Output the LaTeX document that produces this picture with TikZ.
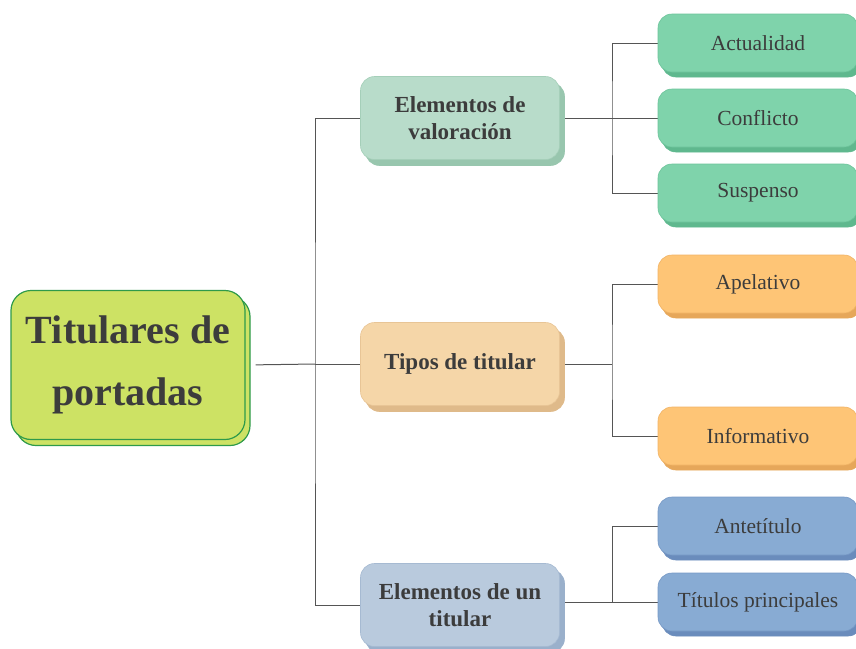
\documentclass[tikz,border=0pt]{standalone}
\usepackage{fontspec}
\setmainfont{Liberation Serif}
\usepackage{tikz}
\usetikzlibrary{shadows,backgrounds}

\definecolor{txtgray}{HTML}{3C3C3C}
\definecolor{linkgray}{HTML}{555555}
\definecolor{rootfill}{HTML}{CDE264}
\definecolor{rootdraw}{HTML}{2E9A4A}
\definecolor{valfill}{HTML}{B8DCCA}
\definecolor{valdraw}{HTML}{98C6AE}
\definecolor{tipfill}{HTML}{F5D6A8}
\definecolor{tipdraw}{HTML}{DFBA8A}
\definecolor{elefill}{HTML}{B9CADD}
\definecolor{eledraw}{HTML}{9AB0CB}
\definecolor{greenfill}{HTML}{7FD3AB}
\definecolor{greendraw}{HTML}{5FB88E}
\definecolor{orangefill}{HTML}{FEC576}
\definecolor{orangedraw}{HTML}{E6A75A}
\definecolor{bluefill}{HTML}{88ABD3}
\definecolor{bluedraw}{HTML}{6A8CBC}

\begin{document}
\begin{tikzpicture}[x=1pt, y=-1pt,
  every node/.style = {shape=rectangle, rounded corners=14pt,
    align=center, text=txtgray, inner sep=0pt},
  rootbox/.style = {fill=rootfill, draw=rootdraw, line width=1.2pt,
    rounded corners=20pt, minimum width=234pt, minimum height=149pt,
    font=\fontsize{40}{62}\selectfont\bfseries,
    general shadow={fill=rootfill, draw=rootdraw, line width=1.2pt,
      shadow xshift=5pt, shadow yshift=-6pt}},
  midbox/.style 2 args = {fill=#1, draw=#2!60!#1, line width=.6pt,
    minimum width=199pt, minimum height=83pt,
    font=\fontsize{23}{27}\selectfont\bfseries,
    general shadow={fill=#2, draw=#2, shadow xshift=5pt, shadow yshift=-6pt}},
  leafbox/.style 2 args = {fill=#1, draw=#2!60!#1, line width=.6pt,
    minimum width=200pt, minimum height=58pt,
    font=\fontsize{21.5}{25}\selectfont,
    general shadow={fill=#2, draw=#2, shadow xshift=4pt, shadow yshift=-5pt}},
  link/.style = {draw=linkgray, line width=1pt}]

  \useasboundingbox (0,0) rectangle (856,648);
  \clip (0,0) rectangle (856,648);

  % root and main branches
  \node[rootbox] (titulares) at (128,365) {Titulares de\\portadas};
  \node[midbox={valfill}{valdraw}] (valoracion) at (460,118) {Elementos de\\valoración};
  \node[midbox={tipfill}{tipdraw}] (tipos) at (460,364) {Tipos de titular};
  \node[midbox={elefill}{eledraw}] (elementos) at (460,605) {Elementos de un\\titular};

  % leaves
  \node[leafbox={greenfill}{greendraw}] (actualidad) at (758,43) {Actualidad};
  \node[leafbox={greenfill}{greendraw}] (conflicto) at (758,118) {Conflicto};
  \node[leafbox={greenfill}{greendraw}] (suspenso) at (758,193) {Suspenso};
  \node[leafbox={orangefill}{orangedraw}] (apelativo) at (758,284) {Apelativo};
  \node[leafbox={orangefill}{orangedraw}] (informativo) at (758,436) {Informativo};
  \node[leafbox={bluefill}{bluedraw}] (antetitulo) at (758,526) {Antetítulo};
  \node[leafbox={bluefill}{bluedraw}] (titulos) at (758,602) {Títulos principales};

  \coordinate (hub) at (315,364);
  \coordinate (fork1) at (612,118);
  \coordinate (fork2) at (612,364);
  \coordinate (fork3) at (612,602);

  \begin{scope}[on background layer]
    \draw[link, shorten <=10pt] (titulares.east) -- (hub);
    \draw[link] (valoracion.west) -| (hub) |- (elementos.west);
    \draw[link] (hub) -- (tipos.west);
    \draw[link] (valoracion.east) -- (conflicto.west);
    \draw[link] (actualidad.west) -| (fork1) |- (suspenso.west);
    \draw[link] (tipos.east) -- (fork2);
    \draw[link] (apelativo.west) -| (fork2) |- (informativo.west);
    \draw[link] (elementos.east |- fork3) -- (titulos.west);
    \draw[link] (antetitulo.west) -| (fork3);
  \end{scope}
\end{tikzpicture}
\end{document}
